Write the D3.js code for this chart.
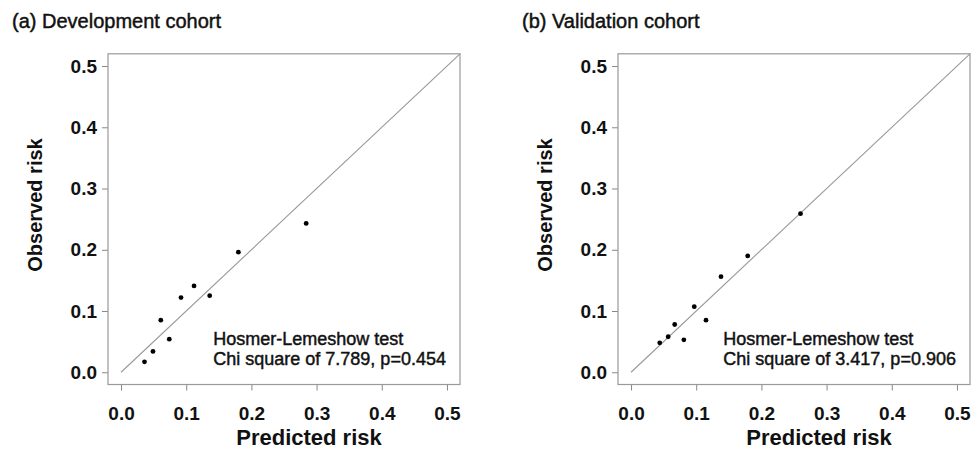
<!DOCTYPE html>
<html>
<head>
<meta charset="utf-8">
<script src="https://cdn.jsdelivr.net/npm/d3@7"></script>
<style>
  body { margin: 0; background: #fff; }
  svg { display: block; font-family: "Liberation Sans", Arial, sans-serif; }
</style>
</head>
<body>
<svg id="chart" width="976" height="453"></svg>
<script>
// Calibration points (deciles)
const devPredicted = [0.036, 0.049, 0.061, 0.074, 0.092, 0.112, 0.136, 0.180, 0.284];
const devObserved  = [0.017, 0.034, 0.085, 0.054, 0.122, 0.141, 0.125, 0.196, 0.243];
const valPredicted = [0.044, 0.057, 0.067, 0.081, 0.097, 0.115, 0.138, 0.179, 0.260];
const valObserved  = [0.048, 0.058, 0.078, 0.053, 0.107, 0.085, 0.156, 0.190, 0.259];

const tickValues = [0, 0.1, 0.2, 0.3, 0.4, 0.5];
const panelTitles = ['(a) Development cohort', '(b) Validation cohort'];
const testLines = [
    ['Hosmer-Lemeshow test', 'Chi square of 7.789, p=0.454'],
    ['Hosmer-Lemeshow test', 'Chi square of 3.417, p=0.906']
];
const xLabel = 'Predicted risk';
const yLabel = 'Observed risk';

const svg = d3.select('#chart');
const domain = [-0.02, 0.52];

function drawPanel(offset, predicted, observed, title, lines) {
    const g = svg.append('g').attr('transform', `translate(${offset}, 0)`);

    const x = d3.scaleLinear().domain(domain).range([108, 460]);
    const y = d3.scaleLinear().domain(domain).range([384.5, 53.8]);

    // Title (regular weight, slightly thickened like the scanned original)
    g.append('text')
        .attr('x', 12)
        .attr('y', 28)
        .attr('font-size', '20px')
        .attr('fill', '#111')
        .attr('stroke', '#111')
        .attr('stroke-width', 0.45)
        .text(title);

    // Axes
    const xAxis = g.append('g')
        .attr('transform', `translate(0, ${y.range()[0]})`)
        .call(d3.axisBottom(x).tickValues(tickValues).tickSize(6).tickPadding(16)
            .tickFormat(d3.format('.1f')));

    const yAxis = g.append('g')
        .attr('transform', `translate(${x.range()[0]}, 0)`)
        .call(d3.axisLeft(y).tickValues(tickValues).tickSize(6).tickPadding(5)
            .tickFormat(d3.format('.1f')));

    [xAxis, yAxis].forEach(ax => {
        ax.select('.domain').remove();
        ax.selectAll('line').attr('stroke', '#888');
        ax.selectAll('text')
            .attr('fill', '#111')
            .attr('font-size', '19px')
            .attr('font-weight', 'bold')
            .attr('font-family', '"Liberation Sans", Arial, sans-serif');
    });

    // Plot box
    g.append('rect')
        .attr('x', x.range()[0])
        .attr('y', y.range()[1])
        .attr('width', x.range()[1] - x.range()[0])
        .attr('height', y.range()[0] - y.range()[1])
        .attr('fill', 'none')
        .attr('stroke', '#999')
        .attr('stroke-width', 1.2);

    // Reference line (perfect calibration)
    g.append('line')
        .attr('x1', x(0)).attr('y1', y(0))
        .attr('x2', x(domain[1])).attr('y2', y(domain[1]))
        .attr('stroke', '#999')
        .attr('stroke-width', 1.1);

    // Points
    g.selectAll('circle.pt')
        .data(predicted.map((p, i) => ({ p, o: observed[i] })))
        .enter()
        .append('circle')
        .attr('class', 'pt')
        .attr('cx', d => x(d.p))
        .attr('cy', d => y(d.o))
        .attr('r', 2.4)
        .attr('fill', '#000');

    // Test annotation
    g.selectAll('text.hl')
        .data(lines)
        .enter()
        .append('text')
        .attr('class', 'hl')
        .attr('x', x(0.1415))
        .attr('y', (d, i) => 344.5 + i * 20)
        .attr('font-size', '18px')
        .attr('fill', '#111')
        .attr('stroke', '#111')
        .attr('stroke-width', 0.45)
        .text(d => d);

    // Axis titles
    g.append('text')
        .attr('x', 309)
        .attr('y', 445)
        .attr('text-anchor', 'middle')
        .attr('font-size', '22px')
        .attr('font-weight', 'bold')
        .attr('fill', '#111')
        .text(xLabel);

    g.append('text')
        .attr('transform', 'translate(41.5, 205) rotate(-90)')
        .attr('text-anchor', 'middle')
        .attr('font-size', '20px')
        .attr('font-weight', 'bold')
        .attr('fill', '#111')
        .text(yLabel);
}

drawPanel(0, devPredicted, devObserved, panelTitles[0], testLines[0]);
drawPanel(510, valPredicted, valObserved, panelTitles[1], testLines[1]);
</script>
</body>
</html>
